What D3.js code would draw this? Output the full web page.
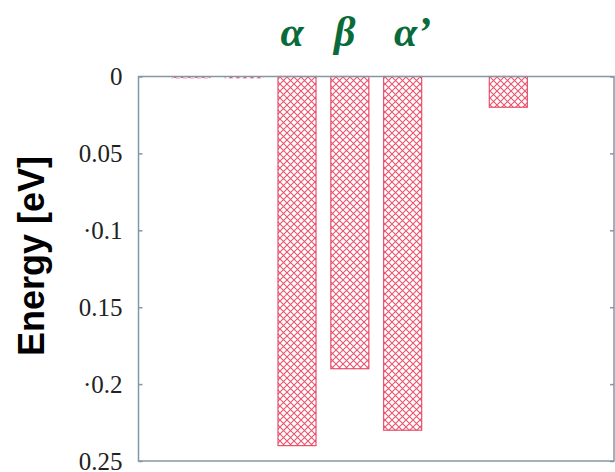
<!DOCTYPE html>
<html>
<head>
<meta charset="utf-8">
<script src="https://cdn.jsdelivr.net/npm/d3@7"></script>
<style>
  html, body { margin: 0; padding: 0; background: #ffffff; }
  svg { display: block; }
</style>
</head>
<body>
<svg id="chart" width="615" height="472"></svg>
<script>
// ---- data ----
const slots = [1, 2, 3, 4, 5, 7];
const values = [0.001, 0.001, 0.24, 0.19, 0.23, 0.02];
const barLabels = ["", "", "α", "β", "α’", ""];
const tickValues = [0, 0.05, 0.1, 0.15, 0.2, 0.25];
const tickLabels = ["0", "0.05", "·0.1", "0.15", "·0.2", "0.25"];
const yTitle = "Energy [eV]";

(function () {
const svg = d3.select("#chart");
const pLeft = 138.5, pRight = 614, pTop = 76.5, pBottom = 461;
const axisColor = "#8497a6";
const barColor = "#e8405e";

const x = d3.scaleLinear().domain([0, 9]).range([pLeft, pRight]);
const y = d3.scaleLinear().domain([0, 0.25]).range([pTop, pBottom]);
const barW = x(0.72) - x(0);

// hatch pattern
const defs = svg.append("defs");
const pat = defs.append("pattern")
  .attr("id", "hatch").attr("patternUnits", "userSpaceOnUse")
  .attr("width", 7).attr("height", 7);
pat.append("path").attr("d", "M-1,-1 L8,8 M8,-1 L-1,8")
  .attr("stroke", barColor).attr("stroke-width", 1.1).attr("stroke-opacity", 0.9).attr("fill", "none");

// bars
const data = slots.map((s, i) => ({ s, v: values[i], label: barLabels[i] }));
svg.append("g").selectAll("rect").data(data).join("rect")
  .attr("x", d => x(d.s) - barW / 2)
  .attr("y", y(0))
  .attr("width", barW)
  .attr("height", d => y(d.v) - y(0))
  .attr("fill", "url(#hatch)")
  .attr("stroke", barColor)
  .attr("stroke-opacity", d => d.v < 0.005 ? 0.4 : 0.9)
  .attr("stroke-dasharray", d => d.v < 0.005 ? "4,3" : null)
  .attr("stroke-width", 1.2);

// frame
svg.append("rect")
  .attr("x", pLeft).attr("y", pTop)
  .attr("width", pRight - pLeft).attr("height", pBottom - pTop)
  .attr("fill", "none").attr("stroke", axisColor).attr("stroke-width", 1.5);

// left axis
const yAxis = d3.axisLeft(y).tickValues(tickValues)
  .tickFormat((d, i) => tickLabels[i]).tickSize(-4).tickPadding(16);
const gy = svg.append("g").attr("transform", `translate(${pLeft},0)`).call(yAxis);
gy.select(".domain").remove();
gy.selectAll(".tick line").attr("stroke", axisColor).attr("stroke-width", 1.5);
gy.selectAll(".tick text")
  .attr("font-family", "'Liberation Serif', 'Times New Roman', serif")
  .attr("font-size", 25).attr("fill", "#222");

// right axis ticks
const yAxisR = d3.axisRight(y).tickValues(tickValues).tickFormat("").tickSize(-4);
const gr = svg.append("g").attr("transform", `translate(${pRight},0)`).call(yAxisR);
gr.select(".domain").remove();
gr.selectAll(".tick line").attr("stroke", axisColor).attr("stroke-width", 1.5);

// bar labels
svg.append("g").selectAll("text").data(data.filter(d => d.label)).join("text")
  .attr("x", d => x(d.s) + (d.label.length > 1 ? 10 : -5))
  .attr("y", 46)
  .attr("text-anchor", "middle")
  .attr("font-family", "'Liberation Serif', 'Times New Roman', serif")
  .attr("font-style", "italic").attr("font-weight", "bold")
  .attr("font-size", 42).attr("fill", "#0a6b3a")
  .text(d => d.label);

// y title
svg.append("text")
  .attr("transform", "translate(44,256) rotate(-90)")
  .attr("text-anchor", "middle")
  .attr("font-family", "'Liberation Sans', Arial, sans-serif")
  .attr("font-weight", "bold").attr("font-size", 36).attr("fill", "#000")
  .text(yTitle);
})();
</script>
</body>
</html>
